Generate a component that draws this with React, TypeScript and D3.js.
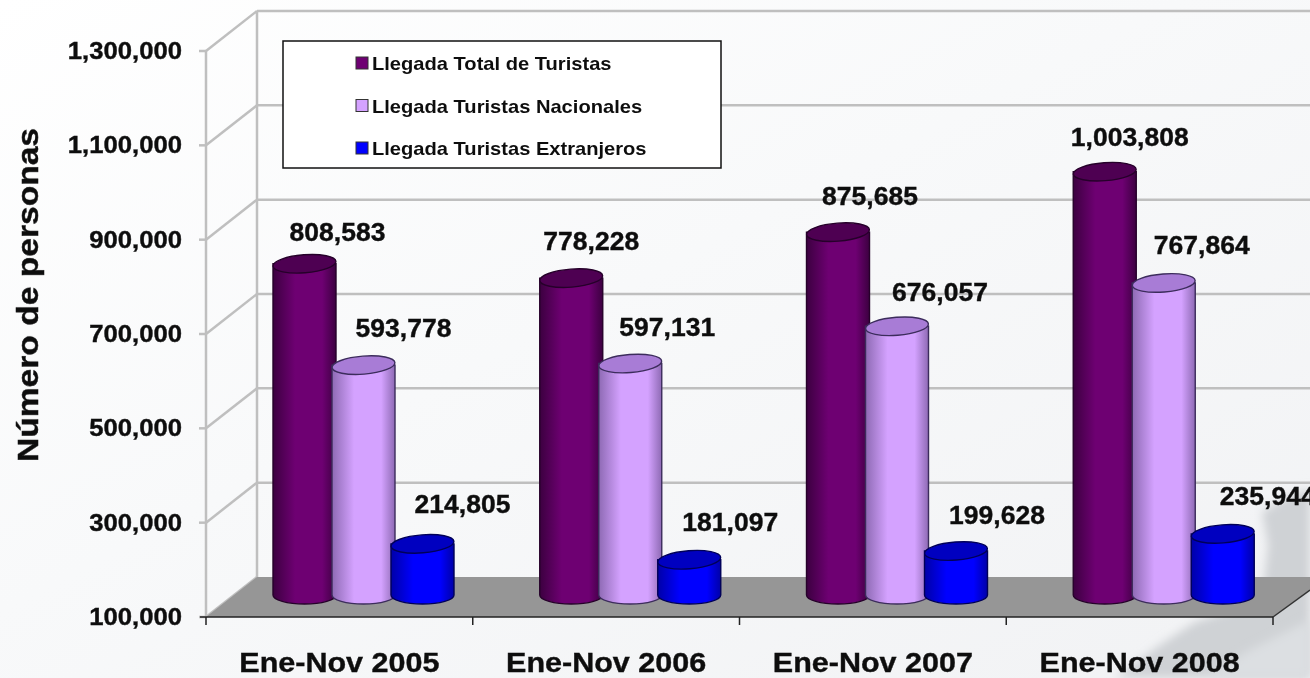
import * as d3 from 'd3'

const W = 1310
const H = 678

const years = ['Ene-Nov 2005', 'Ene-Nov 2006', 'Ene-Nov 2007', 'Ene-Nov 2008']
const seriesNames = ['Llegada Total de Turistas', 'Llegada Turistas Nacionales', 'Llegada Turistas Extranjeros']
const totalValues = [808583, 778228, 875685, 1003808]
const nationalValues = [593778, 597131, 676057, 767864]
const foreignValues = [214805, 181097, 199628, 235944]
const yTicks = [100000, 300000, 500000, 700000, 900000, 1100000, 1300000]

const series = [
  { name: seriesNames[0], values: totalValues, edge: '#3c0040', mid: '#6e0072', top: '#4e0052', line: '#26002a' },
  { name: seriesNames[1], values: nationalValues, edge: '#8e6ab4', mid: '#d4a2ff', top: '#a87cd6', line: '#3c2c5c' },
  { name: seriesNames[2], values: foreignValues, edge: '#0000a8', mid: '#0000ff', top: '#0000c0', line: '#000058' },
]

const DEPTH_X = 51
const DEPTH_Y = -40
const y = d3.scaleLinear().domain([100000, 1300000]).range([617, 51])
const x = d3.scaleBand<string>().domain(years).range([206, 1273])
const barX = d3.scaleBand<number>().domain([0, 1, 2]).range([0, 177])
const fmt = d3.format(',')

// value label nudges relative to the column centre / top
const labelDx = [
  [33, 40, 40],
  [20, 37, 41],
  [32, 43, 41],
  [25, 38, 45],
]
const labelDy = [
  [4, -1, -4],
  [-1, -1, -2],
  [0, 2, 0],
  [1, -2, -2],
]

export default function App() {
  const font = 'Arial, "Liberation Sans", sans-serif'
  const RX = 31.5
  const RY = 9
  const floorY = y(100000)
  const baseY = floorY - 22

  return (
    <svg width={W} height={H} style={{ position: 'fixed', left: 0, top: 0, display: 'block' }}>
      <defs>
        <linearGradient id="bg" x1="0" y1="0" x2="1" y2="1">
          <stop offset="0%" stopColor="#ffffff" />
          <stop offset="45%" stopColor="#f8f9fa" />
          <stop offset="100%" stopColor="#f1f2f4" />
        </linearGradient>
        <filter id="soft" x="-20%" y="-20%" width="140%" height="140%">
          <feGaussianBlur stdDeviation="5" />
        </filter>
        <filter id="textBlur" x="-5%" y="-5%" width="110%" height="110%">
          <feGaussianBlur stdDeviation="0.45" />
        </filter>
        {series.map((s, i) => (
          <linearGradient key={s.name} id={`cyl-${i}`} x1="0" y1="0" x2="1" y2="0">
            <stop offset="0%" stopColor={s.edge} />
            <stop offset="35%" stopColor={s.mid} />
            <stop offset="78%" stopColor={s.mid} />
            <stop offset="100%" stopColor={s.edge} />
          </linearGradient>
        ))}
      </defs>

      <rect width={W} height={H} fill="url(#bg)" />
      {/* map texture behind the chart, bottom right */}
      <path
        d="M1310,488 L1285,498 L1262,512 L1268,545 L1262,600 L1195,622 L1160,645 L1115,678 L1310,678 Z"
        fill="#cfd2d5"
        filter="url(#soft)"
      />
      <path d="M1310,620 L1250,650 L1205,678 L1310,678 Z" fill="#dcdfe2" filter="url(#soft)" />

      {/* walls and gridlines */}
      <g fill="none" stroke="#bfbfbf" strokeWidth={2.5}>
        <line x1={206} x2={206} y1={y(100000)} y2={y(1300000)} />
        <line x1={206 + DEPTH_X} x2={206 + DEPTH_X} y1={y(100000) + DEPTH_Y} y2={y(1300000) + DEPTH_Y} />
        {yTicks.map(t => (
          <g key={t}>
            <line x1={199} y1={y(t)} x2={206} y2={y(t)} />
            <line x1={206} y1={y(t)} x2={206 + DEPTH_X} y2={y(t) + DEPTH_Y} />
            {t > 100000 && <line x1={206 + DEPTH_X} y1={y(t) + DEPTH_Y} x2={W} y2={y(t) + DEPTH_Y} />}
          </g>
        ))}
      </g>

      {/* floor */}
      <path
        d={`M206,${floorY} L${206 + DEPTH_X},${floorY + DEPTH_Y} L${W},${floorY + DEPTH_Y} L${W},${floorY - 27} L1273,${floorY} Z`}
        fill="#969696"
      />
      <path d={`M1273,${floorY} L${W},${floorY - 27}`} stroke="#333" strokeWidth={1.5} fill="none" />

      {/* x axis */}
      <g stroke="#222" strokeWidth={1.5}>
        <line x1={200} x2={1273} y1={floorY} y2={floorY} />
        {[...years.map(d => x(d) as number), 1273].map(v => (
          <line key={v} x1={v} x2={v} y1={floorY} y2={floorY + 8} />
        ))}
      </g>

      {/* cylinders */}
      {years.map((yr, g) =>
        series.map((s, i) => {
          const left = (x(yr) as number) + 67 + (barX(i) as number)
          const cx = left + RX
          const top = y(s.values[g]) - 19
          return (
            <g key={s.name + yr}>
              <path
                d={`M${left},${top} L${left},${baseY} A${RX},${RY} 0 0 0 ${left + RX * 2},${baseY} L${left + RX * 2},${top} Z`}
                fill={`url(#cyl-${i})`}
                stroke={s.line}
                strokeWidth={1.4}
              />
              <ellipse
                cx={cx}
                cy={top}
                rx={RX}
                ry={RY}
                fill={s.top}
                stroke={s.line}
                strokeWidth={1.4}
                transform={`rotate(-4.5 ${cx} ${top})`}
              />
            </g>
          )
        }),
      )}

      <g filter="url(#textBlur)" fontFamily={font} fontWeight={700} fill="#111" stroke="#111" strokeWidth={0.4}>
        {/* y axis labels */}
        {yTicks.map(t => (
          <text key={t} transform={`translate(182,${y(t) + 8}) scale(1.07,1)`} textAnchor="end" fontSize={24}>
            {fmt(t)}
          </text>
        ))}
        <text transform="translate(38,295) rotate(-90) scale(1.12,1)" textAnchor="middle" fontSize={30}>
          Número de personas
        </text>

        {/* x labels */}
        {years.map(yr => (
          <text
            key={yr}
            transform={`translate(${(x(yr) as number) + x.bandwidth() / 2},671.5) scale(1.09,1)`}
            textAnchor="middle"
            fontSize={28}
          >
            {yr}
          </text>
        ))}

        {/* value labels */}
        {years.map((yr, g) =>
          series.map((s, i) => {
            const left = (x(yr) as number) + 67 + (barX(i) as number)
            return (
              <text
                key={s.name + yr}
                transform={`translate(${left + RX + labelDx[g][i]},${y(s.values[g]) - 46 + labelDy[g][i]}) scale(1.06,1)`}
                textAnchor="middle"
                fontSize={25}
              >
                {fmt(s.values[g])}
              </text>
            )
          }),
        )}
      </g>

      {/* legend */}
      <rect x={283} y={41} width={438} height={127} fill="#fff" stroke="#111" strokeWidth={1.5} />
      {series.map((s, i) => (
        <g key={s.name} transform={`translate(356,${63 + i * 42.5})`}>
          <rect x={0} y={-6} width={12} height={12} fill={s.mid} stroke="#333" strokeWidth={1} />
          <text
            transform="translate(16,7) scale(1.15,1)"
            fontFamily={font}
            fontWeight={700}
            fontSize={17.5}
            fill="#111"
            filter="url(#textBlur)"
          >
            {s.name}
          </text>
        </g>
      ))}
    </svg>
  )
}
